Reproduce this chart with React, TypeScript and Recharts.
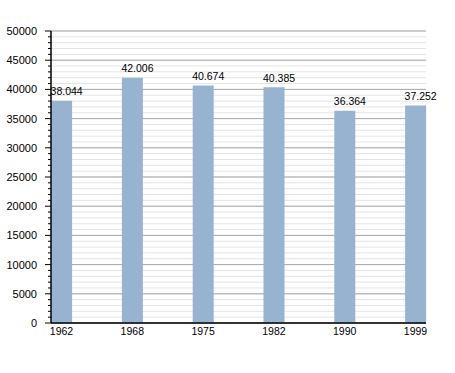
import React from 'react';
import { BarChart, Bar, XAxis, YAxis, CartesianGrid, LabelList } from 'recharts';

const years = ['1962', '1968', '1975', '1982', '1990', '1999'];
const population = [38044, 42006, 40674, 40385, 36364, 37252];
const populationLabels = ['38.044', '42.006', '40.674', '40.385', '36.364', '37.252'];
const yTicks = [0, 1000, 2000, 3000, 4000, 5000, 6000, 7000, 8000, 9000, 10000, 11000, 12000, 13000, 14000, 15000, 16000, 17000, 18000, 19000, 20000, 21000, 22000, 23000, 24000, 25000, 26000, 27000, 28000, 29000, 30000, 31000, 32000, 33000, 34000, 35000, 36000, 37000, 38000, 39000, 40000, 41000, 42000, 43000, 44000, 45000, 46000, 47000, 48000, 49000, 50000];
const majorTicks = [0, 5000, 10000, 15000, 20000, 25000, 30000, 35000, 40000, 45000, 50000];

const data = years.map((y, i) => ({ year: y, value: population[i], label: populationLabels[i] }));

const FONT = 'Liberation Sans, Arial, sans-serif';
const FS = 10.5;

const YTick = (props: any) => {
  const { x, y, payload } = props;
  const v = payload.value;
  const major = v % 5000 === 0;
  return (
    <g>
      <line x1={x - (major ? 6 : 3)} x2={x} y1={y} y2={y} stroke="#000" strokeWidth={1} />
      {major && (
        <text x={x - 14} y={y} dy={4} textAnchor="end" fontSize={11} fontFamily={FONT} fill="#000">
          {v}
        </text>
      )}
    </g>
  );
};

const TopLabel = (props: any) => {
  const { x, y, value } = props;
  return (
    <text x={x - 0.5} y={y - 5.5} textAnchor="start" fontSize={FS} fontFamily={FONT} fill="#000">
      {value}
    </text>
  );
};

export default function App() {
  return (
    <div style={{ position: 'absolute', left: 0, top: 0, background: '#fff' }}>
      <BarChart width={455} height={373} data={data} margin={{ top: 31, right: 29, bottom: 30, left: 0 }}>
        <CartesianGrid horizontal vertical={false} stroke="#e4e4e4" horizontalValues={yTicks} />
        <CartesianGrid horizontal vertical={false} stroke="#a8a8a8" horizontalValues={majorTicks} />
        <XAxis
          dataKey="year"
          scale="point"
          padding={{ left: 10.5, right: 10.5 }}
          tickLine={false}
          axisLine={{ stroke: '#000', strokeWidth: 1.5 }}
          tick={{ fontSize: FS, fontFamily: FONT, fill: '#000' }}
          tickSize={0}
          tickMargin={5}
          height={20}
          interval={0}
        />
        <YAxis
          width={51}
          domain={[0, 50000]}
          ticks={yTicks}
          interval={0}
          tickLine={false}
          tickSize={0}
          tickMargin={0}
          axisLine={{ stroke: '#000', strokeWidth: 1.5 }}
          tick={<YTick />}
        />
        <Bar dataKey="value" fill="#97b3cf" barSize={21} isAnimationActive={false}>
          <LabelList dataKey="label" content={<TopLabel />} />
        </Bar>
      </BarChart>
    </div>
  );
}
